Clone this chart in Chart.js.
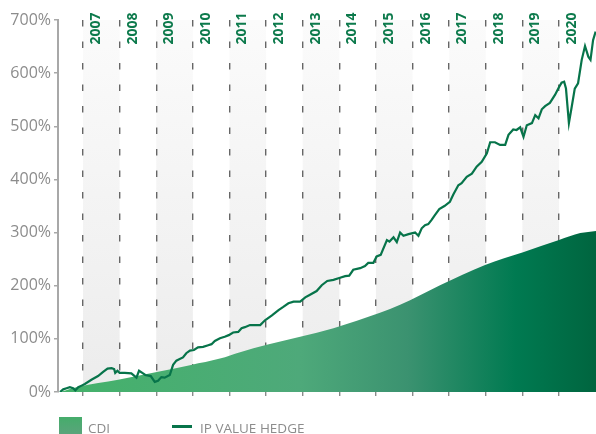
<!DOCTYPE html>
<html>
<head>
<meta charset="utf-8">
<script src="https://cdn.jsdelivr.net/npm/chart.js@4.4.1/dist/chart.umd.min.js"></script>
<style>
  html, body { margin: 0; padding: 0; background: #fff; }
  #wrap { position: relative; width: 596px; height: 434px; overflow: hidden; }
  .leg-text { position: absolute; font-family: 'Open Sans', sans-serif; font-size: 13.5px; color: #8c8c8c; line-height: 14px; white-space: nowrap; }
  #cdi-box { position: absolute; left: 59px; top: 417px; width: 23px; height: 20px; background: linear-gradient(#45ad6b, #5ea37e); }
  #ip-line { position: absolute; left: 172px; top: 425px; width: 20px; height: 3px; background: #07744a; }
</style>
</head>
<body>
<div id="wrap">
  <canvas id="chart" width="596" height="434"></canvas>
  <div id="cdi-box"></div>
  <div class="leg-text" style="left:88px; top:421px;">CDI</div>
  <div id="ip-line"></div>
  <div class="leg-text" style="left:200px; top:421px;">IP VALUE HEDGE</div>
</div>
<script>
// year markers (dashed lines + labels) and shaded years
const yearLabels = [2007, 2008, 2009, 2010, 2011, 2012, 2013, 2014, 2015, 2016, 2017, 2018, 2019, 2020];
const shadedYears = [2007, 2009, 2011, 2013, 2015, 2017, 2019];
const yTicks = [0, 100, 200, 300, 400, 500, 600, 700];

// IP VALUE HEDGE, accumulated return (%)
const ipYears = [
  2006.37, 2006.46, 2006.55, 2006.64, 2006.73, 2006.79, 2006.87, 2006.96,
  2007.05, 2007.23, 2007.41, 2007.55, 2007.67, 2007.78, 2007.85, 2007.88, 2007.94,
  2008.00, 2008.14, 2008.32, 2008.46, 2008.53, 2008.64, 2008.70, 2008.85, 2008.96,
  2009.05, 2009.14, 2009.23, 2009.37, 2009.46, 2009.55, 2009.64, 2009.73, 2009.82, 2009.92,
  2010.03, 2010.14, 2010.28, 2010.42, 2010.51, 2010.60, 2010.74, 2010.87, 2010.98,
  2011.10, 2011.24, 2011.33, 2011.42, 2011.56, 2011.84, 2011.97,
  2012.16, 2012.34, 2012.47, 2012.61, 2012.75, 2012.93,
  2013.07, 2013.20, 2013.38, 2013.52, 2013.67, 2013.84,
  2014.02, 2014.16, 2014.27, 2014.38, 2014.57, 2014.70, 2014.79, 2014.93,
  2015.02, 2015.13, 2015.30, 2015.37, 2015.48, 2015.57, 2015.66, 2015.75, 2015.89,
  2016.07, 2016.16, 2016.25, 2016.34, 2016.43, 2016.52, 2016.61, 2016.73, 2016.87,
  2017.02, 2017.11, 2017.25, 2017.34, 2017.48, 2017.62, 2017.75, 2017.89,
  2018.03, 2018.12, 2018.25, 2018.39, 2018.53, 2018.62, 2018.75, 2018.84, 2018.94,
  2019.03, 2019.12, 2019.26, 2019.35, 2019.44, 2019.53, 2019.62, 2019.75, 2019.89, 2019.98,
  2020.07, 2020.14, 2020.19, 2020.27, 2020.34, 2020.43, 2020.52, 2020.62, 2020.71, 2020.80, 2020.86, 2020.93, 2021.00
];
const ipValues = [
  0, 5, 7, 9, 7, 3, 9, 12,
  15, 23, 30, 38, 44, 45, 43, 36, 40,
  36, 36, 35, 27, 40, 35, 32, 30, 19,
  21, 28, 27, 32, 51, 59, 62, 65, 73, 78,
  79, 84, 85, 88, 90, 96, 101, 104, 107,
  112, 113, 120, 122, 126, 126, 135,
  144, 154, 160, 167, 170, 170,
  178, 183, 190, 201, 209, 211,
  215, 218, 219, 230, 233, 237, 243, 243,
  255, 258, 286, 283, 291, 282, 300, 294, 297,
  300, 294, 308, 314, 316, 324, 333, 344, 350,
  358, 371, 389, 393, 405, 411, 424, 433,
  449, 470, 470, 465, 465, 484, 494, 493, 498,
  480, 502, 506, 521, 515, 532, 538, 544, 559, 571,
  582, 584, 571, 506, 534, 571, 581, 625, 651, 631, 625, 662, 678
];

// CDI, accumulated return (%)
const cdiYears = [2006.37, 2006.87, 2007.96, 2009.05, 2009.95, 2010.74, 2011.29, 2012.02, 2012.93,
  2013.84, 2014.48, 2015.11, 2015.66, 2016.75, 2017.98, 2019.02, 2020.00, 2020.58, 2021.01];
const cdiValues = [0, 10, 23, 38, 51, 63, 75, 89, 104, 120, 134, 149, 164, 201, 239, 263, 286, 299, 303];

const toPoints = (xs, ys) => xs.map((x, i) => ({ x: x, y: ys[i] }));

const bandsPlugin = {
  id: 'bands',
  beforeDraw(chart) {
    const { ctx, chartArea: a, scales: { x } } = chart;
    const g = ctx.createLinearGradient(0, a.top, 0, a.bottom);
    g.addColorStop(0, '#fbfbfb');
    g.addColorStop(1, '#ececec');
    ctx.save();
    ctx.fillStyle = g;
    shadedYears.forEach(yr => {
      const x1 = x.getPixelForValue(yr);
      const x2 = x.getPixelForValue(yr + 1);
      ctx.fillRect(x1, a.top, x2 - x1, a.bottom - a.top);
    });
    ctx.restore();
  },
  afterDatasetsDraw(chart) {
    const { ctx, scales: { x } } = chart;
    ctx.save();
    ctx.fillStyle = '#0d7a4c';
    ctx.font = 'bold 14px "Open Sans", sans-serif';
    ctx.textAlign = 'center';
    ctx.textBaseline = 'middle';
    yearLabels.forEach(yr => {
      ctx.save();
      ctx.translate(x.getPixelForValue(yr) + 13, 28.5);
      ctx.rotate(-Math.PI / 2);
      ctx.fillText(String(yr), 0, 0);
      ctx.restore();
    });
    ctx.restore();
  }
};

new Chart(document.getElementById('chart').getContext('2d'), {
  type: 'line',
  data: {
    datasets: [
      {
        label: 'IP VALUE HEDGE',
        data: toPoints(ipYears, ipValues),
        borderColor: '#07744a',
        borderWidth: 2.2,
        pointRadius: 0,
        tension: 0,
        fill: false,
        order: 1
      },
      {
        label: 'CDI',
        data: toPoints(cdiYears, cdiValues),
        borderWidth: 0,
        pointRadius: 0,
        cubicInterpolationMode: 'monotone',
        fill: 'origin',
        order: 2,
        backgroundColor: function (context) {
          const area = context.chart.chartArea;
          if (!area) return '#3f9a6e';
          const g = context.chart.ctx.createLinearGradient(area.left, 0, area.right, 0);
          g.addColorStop(0, '#44b26a');
          g.addColorStop(0.45, '#4ea97a');
          g.addColorStop(0.65, '#3b9270');
          g.addColorStop(0.85, '#007a51');
          g.addColorStop(1, '#00653f');
          return g;
        }
      }
    ]
  },
  options: {
    responsive: false,
    animation: false,
    layout: { padding: { top: 20, right: 0, left: 0, bottom: 0 } },
    plugins: {
      legend: { display: false },
      tooltip: { enabled: false }
    },
    scales: {
      x: {
        type: 'linear',
        min: 2006.317,
        max: 2021.01,
        afterBuildTicks: s => { s.ticks = yearLabels.map(v => ({ value: v })); },
        afterFit: s => { s.height = 42; },
        ticks: { display: false },
        border: { display: false, dash: [6.5, 15] },
        grid: {
          color: '#666666',
          lineWidth: 1.4,
          tickLength: 4,
          tickColor: '#8a8a8a',
          tickBorderDash: []
        }
      },
      y: {
        min: 0,
        max: 700,
        afterBuildTicks: s => { s.ticks = yTicks.map(v => ({ value: v })); },
        afterFit: s => { s.width = 58; },
        ticks: {
          padding: 3,
          color: '#8c8c8c',
          font: { family: '"Open Sans", sans-serif', size: 16 },
          callback: v => v + '%'
        },
        border: { display: true, color: '#a8a8a8', width: 2 },
        grid: { drawOnChartArea: false, tickLength: 4, color: '#a8a8a8', lineWidth: 1.5 }
      }
    }
  },
  plugins: [bandsPlugin]
});
</script>
</body>
</html>
